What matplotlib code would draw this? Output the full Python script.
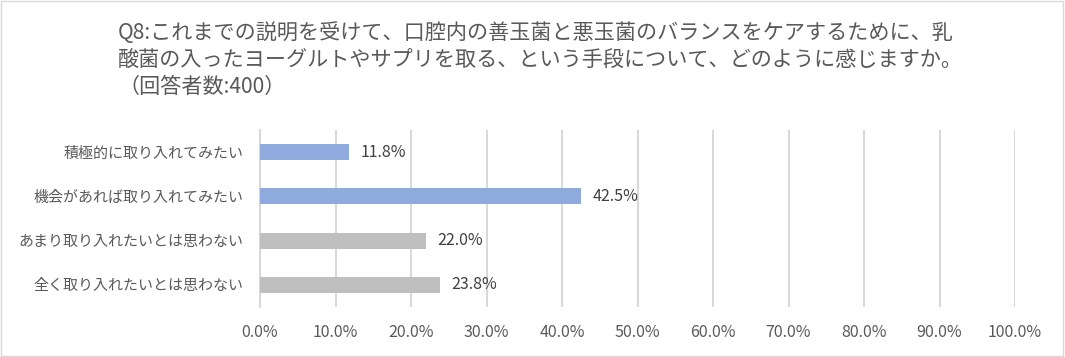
import matplotlib
matplotlib.use("Agg")
import matplotlib.pyplot as plt
from matplotlib.patches import Rectangle
from matplotlib.ticker import FuncFormatter

plt.rcParams['font.family'] = ['Noto Sans CJK JP', 'DejaVu Sans']

# data
categories = ["積極的に取り入れてみたい", "機会があれば取り入れてみたい",
              "あまり取り入れたいとは思わない", "全く取り入れたいとは思わない"]
values = [11.8, 42.5, 22.0, 23.8]
colors = ["#8FAADC", "#8FAADC", "#BFBFBF", "#BFBFBF"]
xticks = [0, 10, 20, 30, 40, 50, 60, 70, 80, 90, 100]
title = ("Q8:これまでの説明を受けて、口腔内の善玉菌と悪玉菌のバランスをケアするために、乳\n"
         "酸菌の入ったヨーグルトやサプリを取る、という手段について、どのように感じますか。\n"
         "（回答者数:400）")

fig = plt.figure(figsize=(10.65, 3.57), dpi=100)
ax = fig.add_axes([260 / 1065, 1 - 307 / 357, 755 / 1065, 177 / 357])

ypos = list(range(len(categories)))
ax.barh(ypos, values, height=0.36, color=colors, zorder=3)
for y, v in zip(ypos, values):
    ax.text(v + 1.5, y, f"{v:.1f}%", va="center", ha="left",
            fontsize=11.5, color="#404040")

ax.set_ylim(3.5, -0.5)
ax.set_xlim(0, 100)
ax.set_xticks(xticks)
ax.xaxis.set_major_formatter(FuncFormatter(lambda x, p: f"{x:.1f}%"))
ax.set_yticks(ypos)
ax.set_yticklabels(categories)
ax.tick_params(axis="x", length=0, pad=12, labelsize=11.5, labelcolor="#595959")
ax.tick_params(axis="y", length=0, pad=12, labelsize=10.8, labelcolor="#595959")
ax.grid(axis="x", color="#D9D9D9", linewidth=1.5, zorder=0)
for s in ["top", "right", "bottom"]:
    ax.spines[s].set_visible(False)
ax.spines["left"].set_color("#D9D9D9")
ax.spines["left"].set_linewidth(1.5)

fig.text(118 / 1065, 1 - 22 / 357, title, ha="left", va="top",
         fontsize=15.2, color="#595959", linespacing=1.28)

fig.patches.append(Rectangle((0.001, 0.002), 0.997, 0.995, transform=fig.transFigure,
                             fill=False, edgecolor="#D9D9D9", linewidth=1))

fig.savefig("out.png", dpi=100)
